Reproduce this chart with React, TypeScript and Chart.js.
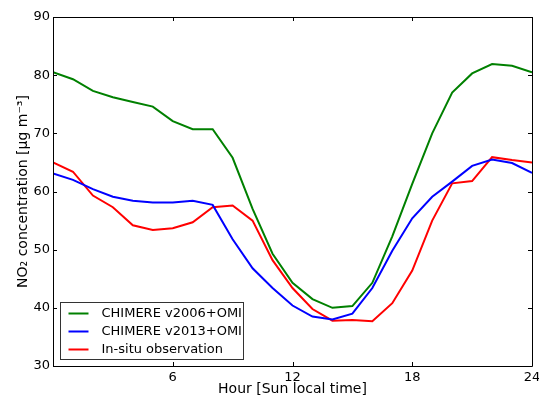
import React, { useEffect, useRef } from "react";
import { Chart, registerables } from "chart.js";

Chart.register(...registerables);

const hours = [0, 1, 2, 3, 4, 5, 6, 7, 8, 9, 10, 11, 12, 13, 14, 15, 16, 17, 18, 19, 20, 21, 22, 23, 24];
const chimere2006 = [80.5, 79.3, 77.3, 76.2, 75.4, 74.6, 72.1, 70.7, 70.7, 65.8, 57.0, 49.3, 44.3, 41.5, 40.0, 40.3, 44.3, 52.3, 61.3, 70.0, 77.0, 80.3, 81.9, 81.6, 80.5];
const chimere2013 = [63.1, 62.0, 60.4, 59.1, 58.4, 58.1, 58.1, 58.4, 57.7, 51.8, 46.8, 43.4, 40.4, 38.5, 38.0, 39.0, 43.4, 49.8, 55.4, 59.1, 61.7, 64.4, 65.5, 64.9, 63.2];
const insitu = [65.0, 63.4, 59.3, 57.3, 54.2, 53.4, 53.7, 54.7, 57.3, 57.6, 55.0, 48.2, 43.4, 39.8, 37.8, 37.9, 37.7, 40.8, 46.4, 55.0, 61.4, 61.8, 65.9, 65.4, 65.0];
const seriesLabels = ["CHIMERE v2006+OMI", "CHIMERE v2013+OMI", "In-situ observation"];
const seriesColors = ["#008000", "#0000ff", "#ff0000"];
const xTickValues = [0, 6, 12, 18, 24];
const yTickValues = [30, 40, 50, 60, 70, 80, 90];
const xTitle = "Hour [Sun local time]";
const yTitle = "NO\u2082 concentration [\u03bcg m\u207b\u00b3]";

const FONT = "'DejaVu Sans', 'Liberation Sans', sans-serif";

const framePlugin = {
  id: "framePlugin",
  afterDraw(chart: any) {
    const { ctx, chartArea } = chart;
    const { left, right, top, bottom } = chartArea;
    const xs = chart.scales.x;
    const ys = chart.scales.y;
    ctx.save();
    ctx.strokeStyle = "#000";
    ctx.lineWidth = 1;
    ctx.beginPath();
    ctx.rect(Math.round(left) + 0.5, Math.round(top) + 0.5, Math.round(right - left), Math.round(bottom - top));
    ctx.stroke();
    const tl = 4;
    ctx.beginPath();
    xTickValues.forEach((v) => {
      const px = Math.round(xs.getPixelForValue(v)) + 0.5;
      ctx.moveTo(px, bottom);
      ctx.lineTo(px, bottom - tl);
      ctx.moveTo(px, top);
      ctx.lineTo(px, top + tl);
    });
    yTickValues.forEach((v) => {
      const py = Math.round(ys.getPixelForValue(v)) + 0.5;
      ctx.moveTo(left, py);
      ctx.lineTo(left + tl, py);
      ctx.moveTo(right, py);
      ctx.lineTo(right - tl, py);
    });
    ctx.stroke();

    // legend
    const bx = Math.round(left) + 7.5;
    const bw = 183;
    const bh = 57;
    const by = Math.round(bottom) - 7 - bh + 0.5;
    ctx.fillStyle = "#fff";
    ctx.fillRect(bx, by, bw, bh);
    ctx.strokeStyle = "#333";
    ctx.strokeRect(bx, by, bw, bh);
    ctx.font = "13px " + FONT;
    ctx.textBaseline = "middle";
    ctx.textAlign = "left";
    seriesLabels.forEach((lab, i) => {
      const yy = by + 11 + i * 18;
      ctx.strokeStyle = seriesColors[i];
      ctx.lineWidth = 2;
      ctx.beginPath();
      ctx.moveTo(bx + 8, yy);
      ctx.lineTo(bx + 28, yy);
      ctx.stroke();
      ctx.fillStyle = "#000";
      ctx.fillText(lab, bx + 41, yy);
    });
    ctx.restore();
  },
};

export default function App() {
  const ref = useRef<HTMLCanvasElement | null>(null);
  useEffect(() => {
    document.body.style.margin = "0";
    const canvas = ref.current;
    if (!canvas) return;
    const seriesData = [chimere2006, chimere2013, insitu];
    const chart = new Chart(canvas, {
      type: "line",
      data: {
        datasets: seriesData.map((vals, i) => ({
          label: seriesLabels[i],
          data: hours.map((h, j) => ({ x: h, y: vals[j] })),
          borderColor: seriesColors[i],
          backgroundColor: seriesColors[i],
          borderWidth: 2,
          pointRadius: 0,
          tension: 0,
          fill: false,
        })),
      },
      options: {
        responsive: false,
        animation: false,
        events: [],
        layout: { padding: { left: 0, right: 7, top: 17, bottom: 0 } },
        plugins: {
          legend: { display: false },
          tooltip: { enabled: false },
        },
        scales: {
          x: {
            type: "linear",
            min: 0,
            max: 24,
            grid: { display: false, drawTicks: false },
            border: { display: false },
            afterBuildTicks: (scale: any) => {
              scale.ticks = xTickValues.map((v) => ({ value: v }));
            },
            afterFit: (scale: any) => {
              scale.height = 30;
              scale.paddingLeft = 0;
              scale.paddingRight = 0;
            },
            ticks: {
              color: "#000",
              font: { family: FONT, size: 13 },
              padding: 4,
              maxRotation: 0,
              autoSkip: false,
              callback: (v: any) => (v === 0 ? "" : String(v)),
            },
            title: {
              display: true,
              text: xTitle,
              color: "#000",
              font: { family: FONT, size: 14 },
              padding: { top: 0, bottom: -1.5 },
            },
          },
          y: {
            type: "linear",
            min: 30,
            max: 90,
            grid: { display: false, drawTicks: false },
            border: { display: false },
            afterBuildTicks: (scale: any) => {
              scale.ticks = yTickValues.map((v) => ({ value: v }));
            },
            afterFit: (scale: any) => {
              scale.width = 53;
              scale.paddingTop = 0;
              scale.paddingBottom = 0;
            },
            ticks: {
              color: "#000",
              font: { family: FONT, size: 13 },
              padding: 3,
              autoSkip: false,
            },
            title: {
              display: true,
              text: yTitle,
              color: "#000",
              font: { family: FONT, size: 14 },
              padding: { top: 15, bottom: 0 },
            },
          },
        },
      },
      plugins: [framePlugin],
    });
    return () => chart.destroy();
  }, []);
  return (
    <div style={{ width: 539, height: 396 }}>
      <canvas ref={ref} width={539} height={396} style={{ display: "block" }} />
    </div>
  );
}
